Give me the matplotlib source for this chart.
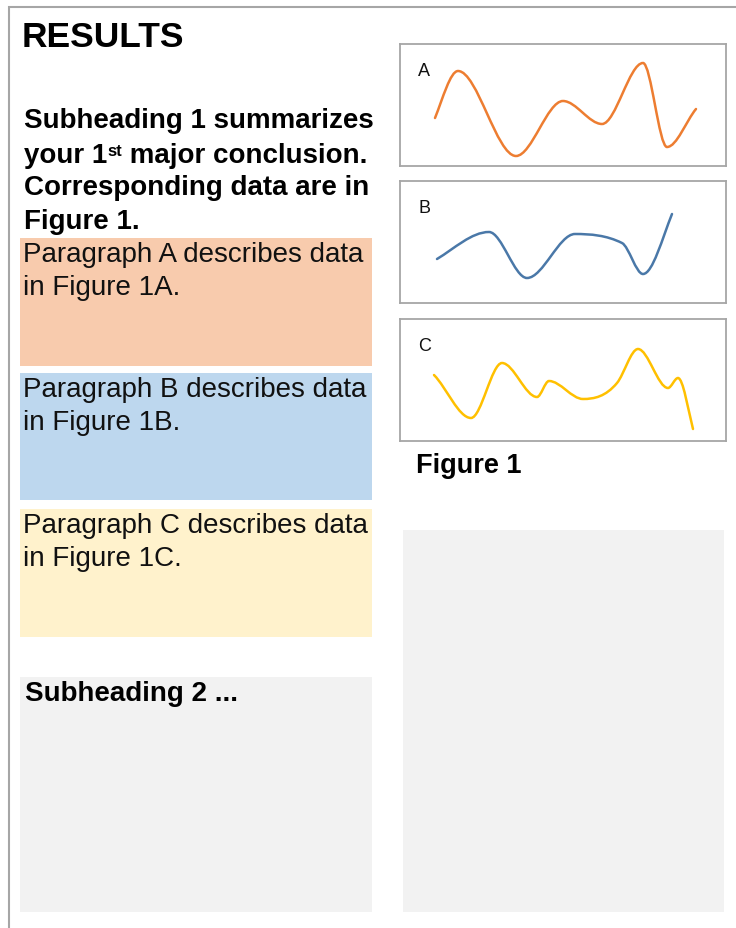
import matplotlib
matplotlib.use("Agg")
import matplotlib.pyplot as plt
from matplotlib.patches import Rectangle, PathPatch
from matplotlib.path import Path

plt.rcParams['font.family'] = ['Liberation Sans', 'DejaVu Sans']

# page text
title = "RESULTS"
sub1_lines = ["Subheading 1 summarizes", "your 1", "Corresponding data are in", "Figure 1."]
par_a = ["Paragraph A describes data", "in Figure 1A."]
par_b = ["Paragraph B describes data", "in Figure 1B."]
par_c = ["Paragraph C describes data", "in Figure 1C."]
sub2 = "Subheading 2 ..."
fig_caption = "Figure 1"
panel_labels = ["A", "B", "C"]

# curve knots (x, height above panel bottom, slope)
a_x = [35, 58, 116, 163, 202, 243, 267, 296]
a_y = [48, 95, 10, 65, 42, 103, 19, 57]
a_slope = [2.5, 0, 0, 0, 0, 0, 0, 1.2]

b_x = [37, 89, 127, 175, 222, 243, 272]
b_y = [44, 71, 25, 69, 60, 29, 89]
b_slope = [0.6, 0, 0, 0, -0.5, 0, 2.5]

c_x = [34, 71, 102, 137, 149, 183, 217, 238, 268, 278, 293]
c_y = [66, 23, 78, 44, 60, 42, 58, 92, 53, 63, 12]
c_slope = [-1.0, 0, 0, 0, 0, 0, 1.2, 0, 0, 0, -4]

W, H = 736, 929
fig = plt.figure(figsize=(W/100, H/100), dpi=100)
ax = fig.add_axes([0, 0, 1, 1])
ax.set_xlim(0, W)
ax.set_ylim(H, 0)
ax.axis('off')

border = '#A6A6A6'
ax.plot([9, 9, W], [H, 8, 8], color=border, lw=1.5, solid_joinstyle='miter')

# colored blocks
ax.add_patch(Rectangle((20, 239), 352, 128, color='#F8CBAD', lw=0))
ax.add_patch(Rectangle((20, 374), 352, 127, color='#BDD7EE', lw=0))
ax.add_patch(Rectangle((20, 510), 352, 128, color='#FFF2CC', lw=0))
ax.add_patch(Rectangle((20, 678), 352, 235, color='#F2F2F2', lw=0))
ax.add_patch(Rectangle((403, 531), 321, 382, color='#F2F2F2', lw=0))

fs = 20
ax.text(22, 47, title, fontsize=25.5, fontweight='bold', va='baseline')
sub_base = [128, 163, 195, 229]
for line, yb in zip(sub1_lines, sub_base):
    ax.text(24, yb, line, fontsize=fs, fontweight='bold', va='baseline')

# superscript on "1st"
fig.canvas.draw()
r = fig.canvas.get_renderer()
t = ax.texts[2]
bb = t.get_window_extent(r)
x1 = ax.transData.inverted().transform((bb.x1, bb.y0))[0]
st = ax.text(x1, 156, "st", fontsize=12, fontweight='bold', va='baseline')
bb2 = st.get_window_extent(r)
x2 = ax.transData.inverted().transform((bb2.x1, bb2.y0))[0]
ax.text(x2, 163, " major conclusion.", fontsize=fs, fontweight='bold', va='baseline')

for lines, y0 in [(par_a, 262), (par_b, 397), (par_c, 533)]:
    for i, line in enumerate(lines):
        ax.text(23, y0 + 33*i, line, fontsize=fs, va='baseline', color='#111111')

ax.text(25, 701, sub2, fontsize=fs, fontweight='bold', va='baseline')
ax.text(416, 473, fig_caption, fontsize=19.5, fontweight='bold', va='baseline')


def smooth_path(xs, ys, slopes):
    verts = [(xs[0], ys[0])]
    codes = [Path.MOVETO]
    for i in range(len(xs) - 1):
        dx = (xs[i+1] - xs[i]) / 3
        verts += [(xs[i] + dx, ys[i] + slopes[i]*dx),
                  (xs[i+1] - dx, ys[i+1] - slopes[i+1]*dx),
                  (xs[i+1], ys[i+1])]
        codes += [Path.CURVE4]*3
    return Path(verts, codes)


panels = [
    (45, a_x, a_y, a_slope, '#ED7D31'),
    (182, b_x, b_y, b_slope, '#4A78A8'),
    (320, c_x, c_y, c_slope, '#FFC000'),
]
for (top, xs, ys, sl, col), lab in zip(panels, panel_labels):
    pw, ph = 326, 122
    pax = fig.add_axes([400/W, 1 - (top + ph)/H, pw/W, ph/H])
    pax.set_xlim(0, pw)
    pax.set_ylim(0, ph)
    pax.set_xticks([])
    pax.set_yticks([])
    for s in pax.spines.values():
        s.set_color(border)
        s.set_linewidth(1.3)
    pax.add_patch(PathPatch(smooth_path(xs, ys, sl), fill=False, edgecolor=col,
                            lw=1.8, capstyle='round'))
    pax.text(18, ph - 31, lab, fontsize=13, va='baseline', color='#111111')

fig.savefig('out.png', dpi=100)
